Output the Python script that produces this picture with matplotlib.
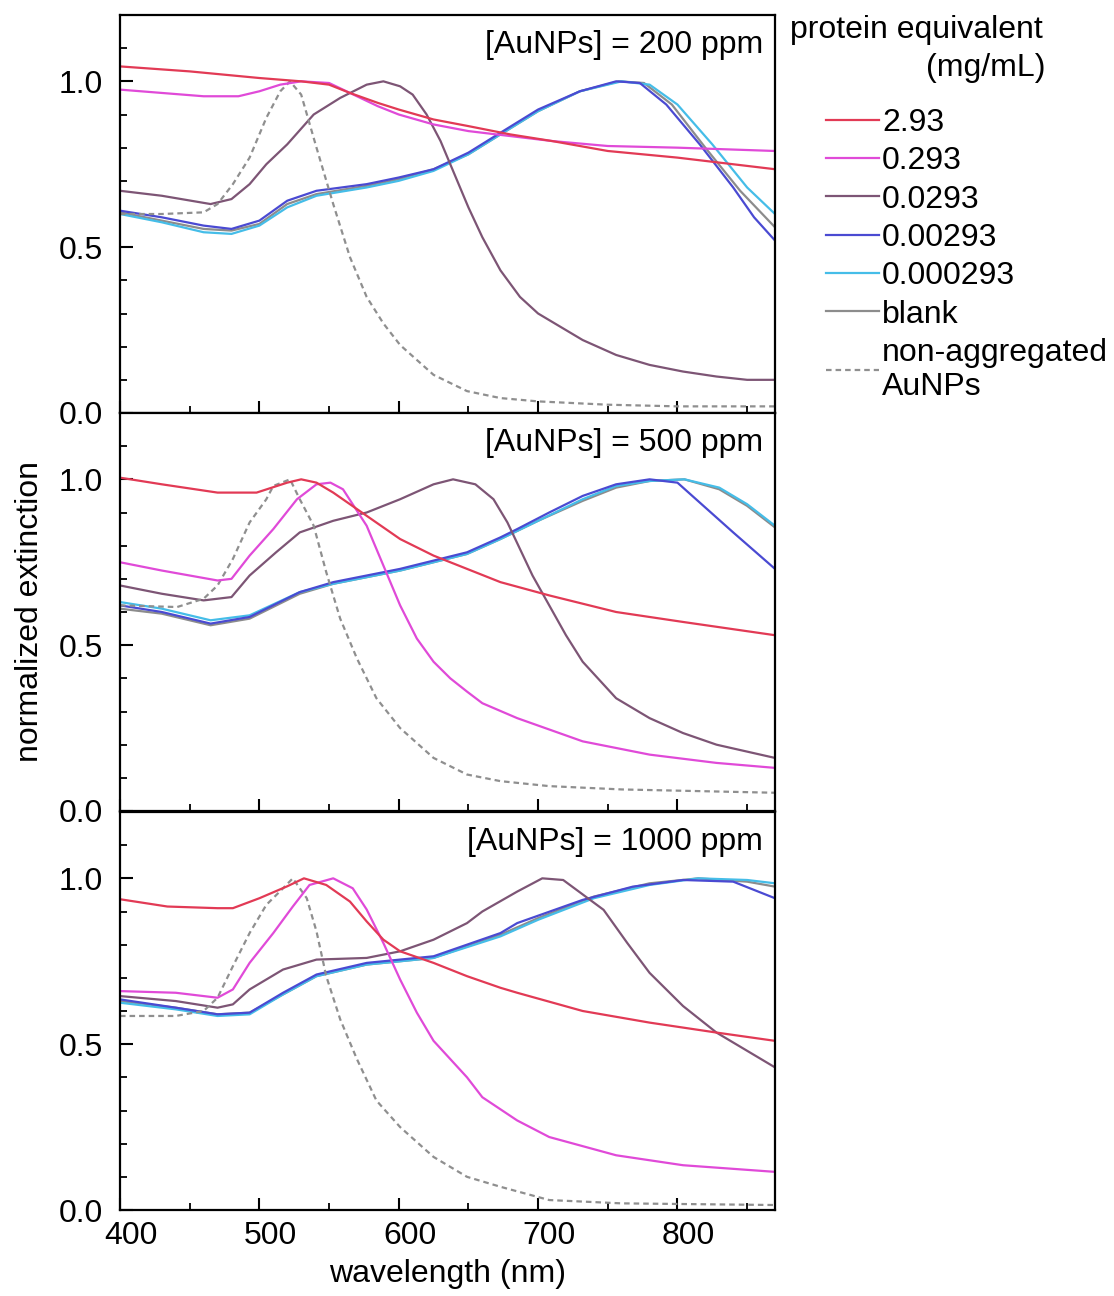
import matplotlib
matplotlib.use("Agg")
import matplotlib.pyplot as plt
from matplotlib.lines import Line2D
from matplotlib.ticker import MultipleLocator, FormatStrFormatter
from matplotlib.transforms import ScaledTranslation

plt.rcParams['font.family'] = ['Liberation Sans', 'DejaVu Sans']
plt.rcParams['font.size'] = 23

# ---- data (wavelength in nm, normalized extinction) ----
labels = ['2.93', '0.293', '0.0293', '0.00293', '0.000293', 'blank', 'non-aggregated\nAuNPs']
panel_titles = ['[AuNPs] = 200 ppm', '[AuNPs] = 500 ppm', '[AuNPs] = 1000 ppm']

# 200 ppm
p200_red_x = [400, 450, 500, 530, 550, 565, 585, 600, 625, 650, 680, 710, 750, 800, 870]
p200_red_y = [1.045, 1.03, 1.01, 1.0, 0.99, 0.965, 0.935, 0.915, 0.885, 0.865, 0.84, 0.82, 0.79, 0.77, 0.735]
p200_mag_x = [400, 430, 460, 485, 500, 515, 530, 550, 565, 585, 600, 625, 650, 680, 710, 750, 800, 870]
p200_mag_y = [0.975, 0.965, 0.955, 0.955, 0.97, 0.99, 1.0, 0.995, 0.965, 0.925, 0.9, 0.87, 0.85, 0.835, 0.82, 0.805, 0.80, 0.79]
p200_mau_x = [400, 430, 465, 480, 493, 505, 520, 539, 558, 577, 589, 601, 610, 620, 630, 640, 650, 660, 673, 687, 700, 716, 732, 756, 780, 804, 828, 850, 870]
p200_mau_y = [0.67, 0.655, 0.63, 0.645, 0.69, 0.75, 0.81, 0.90, 0.95, 0.99, 1.0, 0.985, 0.96, 0.90, 0.82, 0.72, 0.62, 0.53, 0.43, 0.35, 0.30, 0.26, 0.22, 0.175, 0.145, 0.125, 0.11, 0.10, 0.10]
p200_blu_x = [400, 430, 460, 480, 500, 520, 541, 577, 600, 625, 650, 673, 700, 730, 756, 773, 792, 816, 840, 855, 870]
p200_blu_y = [0.61, 0.59, 0.565, 0.555, 0.58, 0.64, 0.67, 0.69, 0.71, 0.735, 0.785, 0.845, 0.915, 0.97, 1.0, 0.995, 0.93, 0.81, 0.68, 0.59, 0.52]
p200_cya_x = [400, 430, 460, 480, 500, 520, 541, 577, 600, 625, 650, 673, 700, 730, 760, 780, 800, 825, 850, 870]
p200_cya_y = [0.60, 0.575, 0.545, 0.54, 0.565, 0.62, 0.655, 0.68, 0.70, 0.73, 0.78, 0.84, 0.91, 0.97, 1.0, 0.99, 0.93, 0.81, 0.68, 0.60]
p200_bla_x = [400, 430, 460, 480, 500, 520, 541, 577, 600, 625, 650, 673, 700, 730, 758, 776, 796, 820, 845, 870]
p200_bla_y = [0.605, 0.58, 0.555, 0.55, 0.57, 0.63, 0.66, 0.685, 0.705, 0.735, 0.78, 0.84, 0.91, 0.97, 1.0, 0.995, 0.93, 0.80, 0.67, 0.56]
p200_non_x = [400, 430, 460, 470, 481, 493, 505, 515, 522, 530, 541, 553, 565, 577, 589, 601, 625, 649, 673, 700, 750, 800, 870]
p200_non_y = [0.60, 0.60, 0.605, 0.63, 0.69, 0.77, 0.89, 0.97, 1.0, 0.96, 0.80, 0.63, 0.47, 0.35, 0.27, 0.205, 0.115, 0.066, 0.045, 0.035, 0.025, 0.02, 0.02]

# 500 ppm
p500_red_x = [400, 430, 470, 498, 520, 530, 541, 553, 577, 601, 625, 649, 673, 708, 756, 804, 870]
p500_red_y = [1.005, 0.985, 0.96, 0.96, 0.99, 1.0, 0.99, 0.96, 0.89, 0.82, 0.77, 0.73, 0.69, 0.65, 0.60, 0.57, 0.53]
p500_mag_x = [400, 430, 470, 480, 493, 510, 527, 541, 551, 560, 577, 589, 601, 613, 625, 637, 649, 660, 685, 732, 780, 828, 870]
p500_mag_y = [0.75, 0.725, 0.695, 0.70, 0.77, 0.85, 0.94, 0.985, 0.99, 0.97, 0.86, 0.74, 0.62, 0.52, 0.45, 0.40, 0.36, 0.325, 0.28, 0.21, 0.17, 0.145, 0.13]
p500_mau_x = [400, 430, 460, 480, 493, 512, 529, 553, 577, 601, 625, 639, 655, 668, 678, 687, 696, 708, 720, 732, 756, 780, 804, 828, 870]
p500_mau_y = [0.68, 0.655, 0.635, 0.645, 0.71, 0.78, 0.84, 0.875, 0.90, 0.94, 0.985, 1.0, 0.985, 0.94, 0.87, 0.79, 0.71, 0.62, 0.53, 0.45, 0.34, 0.28, 0.235, 0.20, 0.16]
p500_blu_x = [400, 430, 465, 493, 529, 553, 601, 649, 673, 685, 708, 732, 756, 780, 800, 816, 840, 870]
p500_blu_y = [0.62, 0.60, 0.565, 0.585, 0.66, 0.69, 0.73, 0.78, 0.825, 0.85, 0.90, 0.95, 0.985, 1.0, 0.99, 0.93, 0.84, 0.73]
p500_cya_x = [400, 430, 465, 493, 529, 553, 601, 649, 673, 700, 732, 756, 780, 805, 830, 850, 870]
p500_cya_y = [0.63, 0.61, 0.575, 0.59, 0.66, 0.685, 0.725, 0.775, 0.82, 0.875, 0.94, 0.98, 0.995, 1.0, 0.975, 0.925, 0.86]
p500_bla_x = [400, 430, 465, 493, 529, 553, 601, 649, 673, 700, 732, 756, 780, 805, 830, 850, 870]
p500_bla_y = [0.61, 0.595, 0.56, 0.58, 0.655, 0.685, 0.725, 0.775, 0.82, 0.875, 0.935, 0.975, 0.995, 1.0, 0.97, 0.92, 0.855]
p500_non_x = [400, 441, 460, 470, 481, 493, 505, 510, 522, 529, 539, 548, 558, 570, 584, 601, 625, 649, 673, 708, 760, 870]
p500_non_y = [0.62, 0.615, 0.64, 0.68, 0.76, 0.87, 0.94, 0.98, 1.0, 0.94, 0.86, 0.72, 0.58, 0.46, 0.34, 0.25, 0.16, 0.11, 0.09, 0.075, 0.065, 0.055]

# 1000 ppm
p1000_red_x = [400, 434, 470, 481, 500, 520, 532, 548, 565, 577, 589, 601, 625, 649, 673, 685, 732, 780, 828, 870]
p1000_red_y = [0.937, 0.915, 0.91, 0.91, 0.94, 0.976, 1.0, 0.98, 0.93, 0.87, 0.815, 0.78, 0.745, 0.705, 0.67, 0.655, 0.60, 0.565, 0.535, 0.51]
p1000_mag_x = [400, 440, 470, 481, 493, 510, 524, 536, 553, 567, 577, 589, 601, 613, 625, 649, 660, 685, 708, 756, 804, 870]
p1000_mag_y = [0.66, 0.655, 0.64, 0.665, 0.745, 0.835, 0.915, 0.98, 1.0, 0.97, 0.906, 0.805, 0.695, 0.595, 0.51, 0.40, 0.34, 0.27, 0.22, 0.165, 0.135, 0.115]
p1000_mau_x = [400, 440, 470, 481, 493, 517, 541, 577, 601, 625, 649, 660, 685, 703, 718, 747, 764, 780, 804, 828, 870]
p1000_mau_y = [0.645, 0.63, 0.61, 0.62, 0.665, 0.725, 0.755, 0.76, 0.78, 0.815, 0.865, 0.90, 0.96, 1.0, 0.995, 0.905, 0.805, 0.715, 0.615, 0.535, 0.43]
p1000_blu_x = [400, 440, 470, 493, 517, 541, 577, 625, 673, 685, 732, 768, 804, 840, 855, 870]
p1000_blu_y = [0.635, 0.61, 0.59, 0.595, 0.655, 0.71, 0.745, 0.765, 0.835, 0.865, 0.935, 0.975, 0.995, 0.99, 0.965, 0.94]
p1000_cya_x = [400, 440, 470, 493, 517, 541, 577, 625, 673, 700, 740, 780, 815, 850, 870]
p1000_cya_y = [0.625, 0.605, 0.585, 0.59, 0.65, 0.705, 0.74, 0.76, 0.825, 0.875, 0.94, 0.98, 1.0, 0.995, 0.985]
p1000_bla_x = [400, 440, 470, 493, 517, 541, 577, 625, 673, 700, 740, 780, 815, 850, 870]
p1000_bla_y = [0.63, 0.61, 0.59, 0.595, 0.65, 0.705, 0.74, 0.76, 0.83, 0.88, 0.945, 0.985, 1.0, 0.99, 0.975]
p1000_non_x = [400, 440, 460, 470, 481, 493, 505, 517, 524, 534, 541, 548, 558, 570, 584, 601, 625, 649, 673, 708, 760, 870]
p1000_non_y = [0.585, 0.585, 0.60, 0.64, 0.735, 0.835, 0.92, 0.97, 1.0, 0.94, 0.84, 0.705, 0.575, 0.455, 0.33, 0.25, 0.16, 0.10, 0.07, 0.03, 0.02, 0.015]

panels = [
    [(p200_red_x, p200_red_y), (p200_mag_x, p200_mag_y), (p200_mau_x, p200_mau_y),
     (p200_blu_x, p200_blu_y), (p200_cya_x, p200_cya_y), (p200_bla_x, p200_bla_y),
     (p200_non_x, p200_non_y)],
    [(p500_red_x, p500_red_y), (p500_mag_x, p500_mag_y), (p500_mau_x, p500_mau_y),
     (p500_blu_x, p500_blu_y), (p500_cya_x, p500_cya_y), (p500_bla_x, p500_bla_y),
     (p500_non_x, p500_non_y)],
    [(p1000_red_x, p1000_red_y), (p1000_mag_x, p1000_mag_y), (p1000_mau_x, p1000_mau_y),
     (p1000_blu_x, p1000_blu_y), (p1000_cya_x, p1000_cya_y), (p1000_bla_x, p1000_bla_y),
     (p1000_non_x, p1000_non_y)],
]

colors = ['#e23a55', '#e04ad8', '#7d5575', '#4a4ad2', '#45bde8', '#8c8c8c', '#8f8f8f']
styles = ['-', '-', '-', '-', '-', '-', (0, (2.5, 1.8))]
# draw order: blue group first so red/magenta sit on top
order = [5, 4, 3, 2, 6, 1, 0]

fig = plt.figure(figsize=(11.14, 12.96), dpi=100)
left, right = 120 / 1114, 775 / 1114
tops = [15, 413, 812]
height = 398
axes = []
for i in range(3):
    b = 1 - (tops[i] + height) / 1296
    axes.append(fig.add_axes([left, b, right - left, height / 1296]))

for i, ax in enumerate(axes):
    for k in order:
        xs, ys = panels[i][k]
        ax.plot(xs, ys, color=colors[k], ls=styles[k], lw=1.6)
    ax.set_xlim(400, 870)
    ax.set_ylim(0, 1.2)
    ax.xaxis.set_major_locator(MultipleLocator(100))
    ax.xaxis.set_minor_locator(MultipleLocator(50))
    ax.yaxis.set_major_locator(MultipleLocator(0.5))
    ax.yaxis.set_minor_locator(MultipleLocator(0.1))
    ax.yaxis.set_major_formatter(FormatStrFormatter('%.1f'))
    ax.tick_params(which='both', direction='in', top=False, right=False)
    ax.tick_params(which='major', length=9, width=1.5)
    ax.tick_params(which='minor', length=5, width=1.3)
    ax.tick_params(axis='y', pad=12)
    ax.tick_params(axis='x', pad=8)
    for s in ax.spines.values():
        s.set_linewidth(1.6)
    ax.text(0.982, 0.925, panel_titles[i], transform=ax.transAxes,
            ha='right', va='center')
    if i < 2:
        ax.tick_params(labelbottom=False)

# x tick labels sit a little right of their ticks in the original
shift = ScaledTranslation(11 / 100, 0, fig.dpi_scale_trans)
for lab in axes[2].get_xticklabels():
    lab.set_transform(lab.get_transform() + shift)

axes[2].set_xlabel('wavelength (nm)', labelpad=6)
fig.text(30 / 1114, 1 - 612 / 1296, 'normalized extinction', rotation=90,
         ha='center', va='center')

# legend
fig.text(790 / 1114, 1 - 30 / 1296, 'protein equivalent', ha='left', va='center')
fig.text(1045 / 1114, 1 - 68 / 1296, '(mg/mL)', ha='right', va='center')
handles = [Line2D([], [], color=colors[k], ls=styles[k], lw=1.6) for k in range(7)]
fig.legend(handles, labels, loc='upper left', bbox_to_anchor=(826 / 1114, 1 - 108 / 1296),
           frameon=False, handlelength=1.65, handletextpad=0.1, labelspacing=0.26,
           borderaxespad=0, borderpad=0)

fig.savefig('out.png', dpi=100)
